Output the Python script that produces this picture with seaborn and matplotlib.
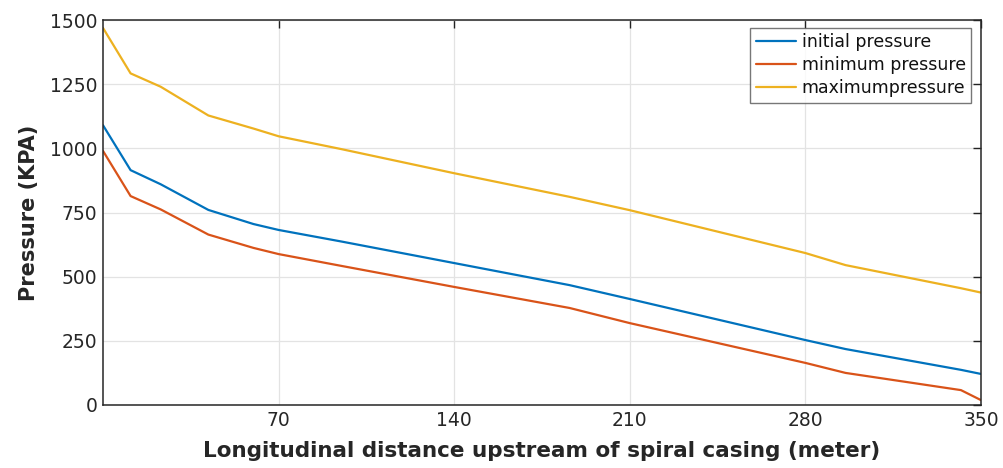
import numpy as np
import pandas as pd
import matplotlib
matplotlib.use("Agg")
import matplotlib.pyplot as plt
import seaborn as sns

distance = [0, 11, 23, 42, 60, 70, 95, 140, 186, 210, 280, 296, 342, 350]
initial_pressure = [1090, 915, 860, 760, 705, 682, 637, 553, 467, 413, 253, 218, 137, 121]
minimum_pressure = [990, 814, 762, 664, 612, 588, 542, 460, 378, 319, 164, 125, 58, 19]
maximum_pressure = [1469, 1292, 1240, 1128, 1077, 1047, 997, 903, 811, 759, 592, 545, 455, 438]
series_names = ["initial pressure", "minimum pressure", "maximumpressure"]
colors = ["#0072BD", "#D95319", "#EDB120"]
x_ticks = [70, 140, 210, 280, 350]
y_ticks = [0, 250, 500, 750, 1000, 1250, 1500]

df = pd.DataFrame({
    "distance": distance * 3,
    "pressure": initial_pressure + minimum_pressure + maximum_pressure,
    "series": ([series_names[0]] * len(distance) + [series_names[1]] * len(distance)
               + [series_names[2]] * len(distance)),
})

sns.set_theme(style="white")
plt.rcParams["font.family"] = ["DejaVu Sans"]

fig = plt.figure(figsize=(10.04, 4.68), dpi=100)
ax = fig.add_axes([103 / 1004, 63 / 468, 878 / 1004, 385 / 468])
sns.lineplot(data=df, x="distance", y="pressure", hue="series", hue_order=series_names,
             palette=colors, linewidth=1.6, ax=ax)

ax.set_xlim(0, 350)
ax.set_ylim(0, 1500)
ax.set_xticks(x_ticks)
ax.set_yticks(y_ticks)
ax.grid(True, color="#e3e3e3", linewidth=0.9)
ax.tick_params(axis="both", direction="in", length=6, width=1, colors="#222222",
               labelsize=13.5, top=True, right=True, labelcolor="#262626", pad=4)
for s in ax.spines.values():
    s.set_color("#262626")
    s.set_linewidth(1.1)

ax.set_xlabel("Longitudinal distance upstream of spiral casing (meter)", fontsize=15.5,
              fontweight="bold", color="#262626", labelpad=8)
ax.set_ylabel("Pressure (KPA)", fontsize=15, fontweight="bold", color="#262626", labelpad=8)

leg = ax.legend(loc="upper right", bbox_to_anchor=(0.9886, 0.98), fontsize=12.5, frameon=True,
                fancybox=False, edgecolor="#555555", handlelength=2.3, handletextpad=0.35,
                borderpad=0.3, labelspacing=0.3, borderaxespad=0.0)
leg.get_frame().set_linewidth(1.0)
for t in leg.get_texts():
    t.set_color("#111111")

fig.savefig("out.png", dpi=100)
